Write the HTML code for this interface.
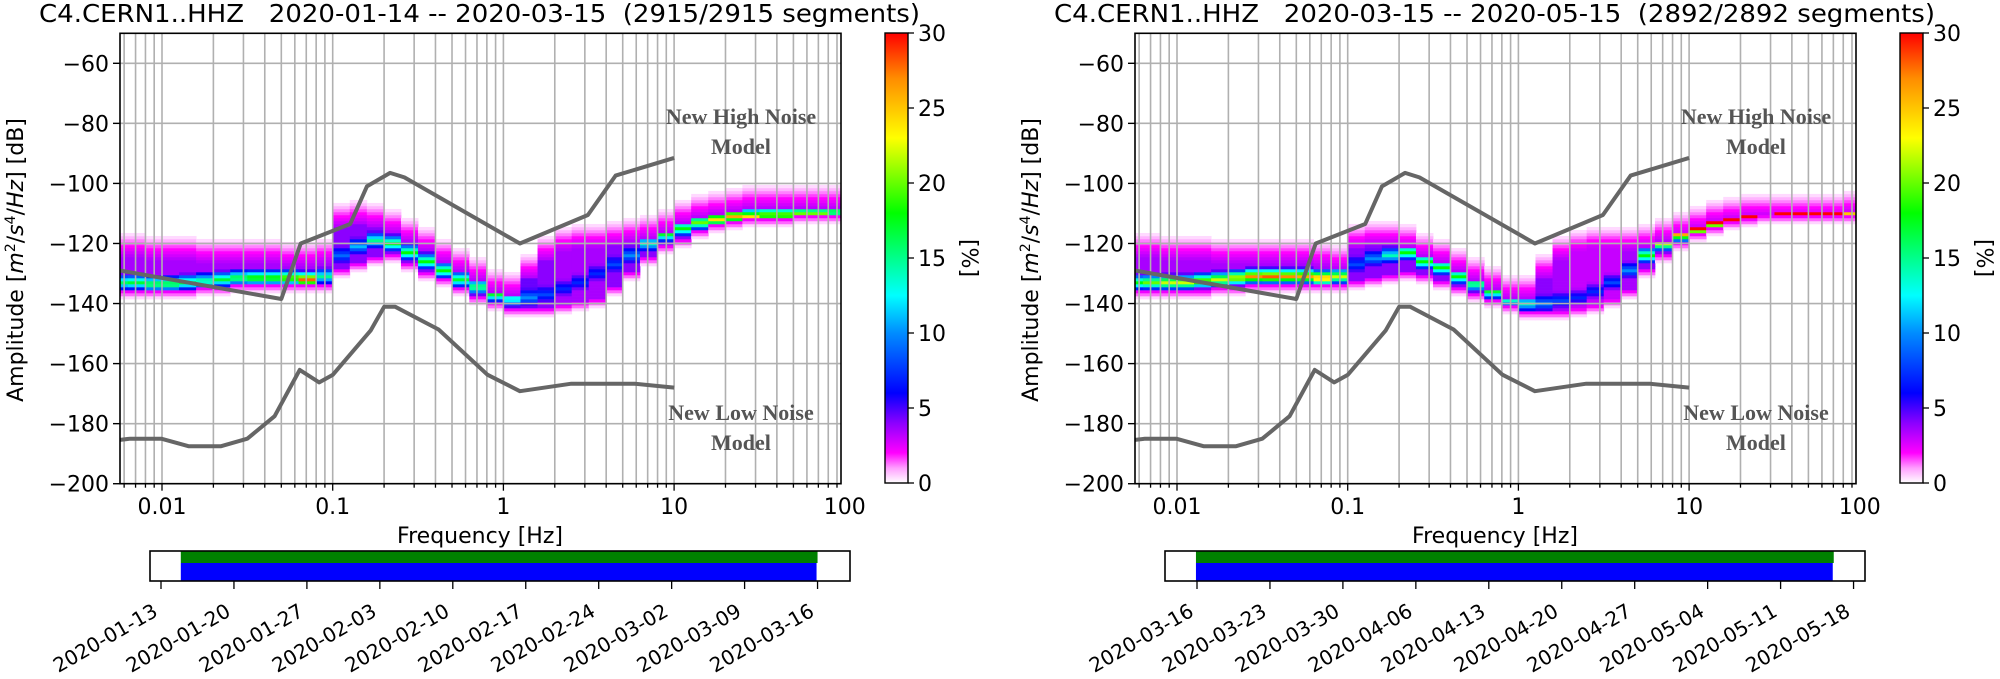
<!DOCTYPE html>
<html><head><meta charset="utf-8">
<style>
html,body{margin:0;padding:0;background:#fff;}
svg{display:block;}
text{font-family:"DejaVu Sans","Liberation Sans",sans-serif;fill:#000;white-space:pre;}
.serif{font-family:"Liberation Serif","DejaVu Serif",serif;font-weight:bold;fill:#555;}
</style></head>
<body>
<svg id="fig" width="2000" height="679" viewBox="0 0 2000 679" xmlns="http://www.w3.org/2000/svg">
<defs>
<linearGradient id="cmap" x1="0" y1="1" x2="0" y2="0">
<stop offset="0" stop-color="#ffffff"/>
<stop offset="0.033" stop-color="#ffa0ff"/>
<stop offset="0.067" stop-color="#ff00ff"/>
<stop offset="0.133" stop-color="#8c00ff"/>
<stop offset="0.2" stop-color="#0000ff"/>
<stop offset="0.333" stop-color="#008cff"/>
<stop offset="0.417" stop-color="#00ffff"/>
<stop offset="0.6" stop-color="#00ff00"/>
<stop offset="0.767" stop-color="#ffff00"/>
<stop offset="0.9" stop-color="#ff8c00"/>
<stop offset="1" stop-color="#ff0000"/>
</linearGradient>
</defs>
</svg>
<script>
// ---- data ----
const logFreqs = [-2.25,-2.15,-2.05,-1.95,-1.85,-1.75,-1.65,-1.55,-1.45,-1.35,-1.25,-1.15,-1.05,-0.95,-0.85,-0.75,-0.65,-0.55,-0.45,-0.35,-0.25,-0.15,-0.05,0.05,0.15,0.25,0.35,0.45,0.55,0.65,0.75,0.85,0.95,1.05,1.15,1.25,1.35,1.45,1.55,1.65,1.75,1.85,1.95];
const modeA = [-133,-133,-133.5,-133.5,-133,-132.5,-132,-131.5,-131.5,-131.5,-131.5,-132,-131,-124,-121,-119,-120,-123,-126,-129,-132,-134.5,-137,-138.5,-138,-137,-135,-133,-130,-127,-124,-120,-117,-115,-113,-112,-111,-111,-110.5,-110.5,-110,-110,-109.5];
const peakA = [16,17,18,18,17,16,17,18,20,20,22,28,15,9,11,15,18,18,18,18,17,17,17,14,10,8,7,7,7,8,10,14,17,18,20,24,26,24,22,22,20,20,18];
const topA = [-120,-120,-121,-121,-121,-122,-122,-122,-122,-122,-123,-123,-122,-110,-109,-110,-112,-115,-118,-122,-125,-128,-132,-133,-127,-121,-118,-117,-117,-116,-115,-114,-112,-109,-107,-106,-105,-104,-104,-104,-104,-104,-104];
const botA = [-137,-137,-137,-137,-137,-136,-136,-135,-135,-135,-135,-135,-135,-130,-128,-126,-125,-128,-131,-133,-136,-139,-141,-143,-143,-143,-142,-141,-140,-136,-131,-126,-122,-120,-117,-115,-114,-113,-113,-113,-112,-112,-112];
const bodyA = [3.5,3.5,3.5,3.5,3.5,3.5,3.5,3.5,3.5,3.5,3.5,3.5,3.5,4,4,4,4,4,4,4,4,4,4,4.5,4.5,4,3.5,3.5,3.5,4,4,4,4,4,4,4,4,4,4,4,4,4,4];

const modeB = [-133,-133,-133,-133,-132.5,-132,-131.5,-131,-131,-131,-131,-131.5,-131,-127,-125,-124,-123,-126,-128,-131,-133.5,-136,-138.5,-140,-140,-139,-138,-136,-133,-129,-124,-120,-117,-115,-113,-112,-111,-110.5,-110,-110,-110,-110,-109.5];
const peakB = [18,20,22,22,22,22,24,27,28,27,26,28,22,8,10,14,18,18,18,18,17,17,16,14,10,8,7,7,8,10,18,22,26,30,30,30,30,30,30,30,30,30,30];
const topB = [-120,-120,-121,-121,-121,-122,-122,-122,-122,-122,-122,-123,-124,-117,-116,-116,-117,-120,-122,-125,-128,-131,-134,-134,-127,-121,-119,-118,-118,-118,-117,-115,-113,-111,-109,-108,-107,-107,-107,-107,-107,-107,-106];
const botB = [-137,-137,-137,-137,-137,-136,-136,-135,-135,-135,-135,-135,-135,-134,-133,-132,-131,-132,-134,-136,-138,-140,-142,-144,-144,-144,-143,-142,-140,-137,-130,-125,-121,-118,-116,-114,-113,-112,-112,-112,-112,-112,-112];
const bodyB = [3.5,3.5,3.5,3.5,3.5,3.5,3.5,3.5,3.5,3.5,3.5,3.5,3.5,4,4,4,4,4,4,4,4,4,4,4,4,3.5,3,3,3,3.5,4,4,4,4,4,4,4,4,4,4,4,4,4];

// Peterson noise models (frequency Hz, dB)
const nhnmFreq = [0.00567,0.05,0.0649,0.1266,0.1587,0.217,0.263,1.25,3.125,4.545,10];
const nhnmDb = [-129.0,-138.5,-120.0,-113.5,-101.0,-96.5,-98.0,-120.0,-110.5,-97.4,-91.5];
const nlnmFreq = [0.00567,0.0065,0.0099,0.01429,0.0222,0.0316,0.0457,0.0641,0.0833,0.1,0.1667,0.2,0.2326,0.417,0.806,1.25,2.5,5.88,10];
const nlnmDb = [-185.4,-185.0,-185.0,-187.5,-187.5,-185.0,-177.5,-162.1,-166.25,-163.75,-149.0,-141.1,-141.1,-148.65,-163.7,-169.2,-166.7,-166.7,-168.0];

const yTicks = [-60,-80,-100,-120,-140,-160,-180,-200];
const xTickLabels = ["0.01","0.1","1","10","100"];
const cbTicks = [0,5,10,15,20,25,30];
const datesA = ["2020-01-13","2020-01-20","2020-01-27","2020-02-03","2020-02-10","2020-02-17","2020-02-24","2020-03-02","2020-03-09","2020-03-16"];
const datesB = ["2020-03-16","2020-03-23","2020-03-30","2020-04-06","2020-04-13","2020-04-20","2020-04-27","2020-05-04","2020-05-11","2020-05-18"];
// coverage in days relative to first tick date
const coverA = [1.9, 63.0];
const coverB = [-0.1, 61.1];
const titles = ["C4.CERN1..HHZ   2020-01-14 -- 2020-03-15  (2915/2915 segments)","C4.CERN1..HHZ   2020-03-15 -- 2020-05-15  (2892/2892 segments)"];

// ---- rendering ----
const NS = "http://www.w3.org/2000/svg";
const svg = document.getElementById("fig");
function mk(tag, attrs, parent) {
  const e = document.createElementNS(NS, tag);
  for (const k in attrs) e.setAttribute(k, attrs[k]);
  (parent || svg).appendChild(e);
  return e;
}
const CSTOPS = [[0,255,255,255],[1,255,160,255],[2,255,0,255],[4,140,0,255],[6,0,0,255],[10,0,140,255],[12.5,0,255,255],[18,0,255,0],[23,255,255,0],[27,255,140,0],[30,255,0,0]];
function cmap(v) {
  v = Math.max(0, Math.min(30, v));
  for (let i = 1; i < CSTOPS.length; i++) {
    if (v <= CSTOPS[i][0]) {
      const a = CSTOPS[i-1], b = CSTOPS[i], t = (v - a[0]) / (b[0] - a[0]);
      return "rgb(" + [1,2,3].map(j => Math.round(a[j] + (b[j]-a[j])*t)).join(",") + ")";
    }
  }
  return "rgb(255,0,0)";
}

function panel(ox, mode, peak, top, bot, body, dates, cover, title, tag, tick0) {
  const L = 120 + ox, R = 841 + ox, T = 33.3, B = 483.7;
  const xs = f => ox + 162 + 170.7 * (Math.log10(f) + 2);
  const ys = db => 63.3 + (-60 - db) * 3.003;
  const g = mk("g", {});
  
  
  const clipId = "clip" + tag;
  const cp = mk("clipPath", {id: clipId}, g);
  mk("rect", {x: L, y: T, width: R - L, height: B - T}, cp);

  // heatmap
  const hm = mk("g", {"clip-path": "url(#" + clipId + ")"}, g);
  
  
  for (let i = 0; i < logFreqs.length; i++) {
    const x0 = xs(Math.pow(10, logFreqs[i] - 0.05)), x1 = xs(Math.pow(10, logFreqs[i] + 0.05));
    for (let b = Math.floor(bot[i]) - 1; b <= Math.ceil(top[i]) + 4; b++) {
      const d = b - mode[i];
      const w = d > 0 ? 3.2 : 2.6;
      let v = body[i] + (peak[i] - body[i]) * Math.max(0, 1 - Math.abs(d) / w);
      if (b > mode[i]) {
        const up = (top[i] - b);
        if (up < 5) v = Math.min(v, Math.max(0, up + 4) * 0.4);
      } else {
        const dn = (b - bot[i]);
        if (dn < 2) v = Math.min(v, Math.max(0, dn + 1.5) * 0.9);
      }
      if (v < 0.3) continue;
      const r = mk("rect", {x: x0.toFixed(2), y: ys(b + 0.5).toFixed(2), width: (x1 - x0 + 0.4).toFixed(2), height: 3.3, fill: cmap(v)}, hm);
      
      
    }
  }

  // grid
  const grid = mk("g", {stroke: "#b0b0b0", "stroke-width": 1.6, "clip-path": "url(#" + clipId + ")"}, g);
  
  
  for (let e = -3; e <= 2; e++) for (let m = 1; m <= 9; m++) {
    const x = xs(m * Math.pow(10, e));
    if (x < L || x > R) continue;
    mk("line", {x1: x, y1: T, x2: x, y2: B}, grid);
  }
  yTicks.forEach(v => mk("line", {x1: L, y1: ys(v), x2: R, y2: ys(v)}, grid));

  // noise models
  const hp = nhnmFreq.map((f, i) => xs(f).toFixed(1) + "," + ys(nhnmDb[i]).toFixed(1)).join(" ");
  const hl = mk("polyline", {points: hp, fill: "none", stroke: "#666", "stroke-width": 4, "stroke-linejoin": "round", "clip-path": "url(#" + clipId + ")"}, g);
  
  
  const lp = nlnmFreq.map((f, i) => xs(f).toFixed(1) + "," + ys(nlnmDb[i]).toFixed(1)).join(" ");
  const ll = mk("polyline", {points: lp, fill: "none", stroke: "#666", "stroke-width": 4, "stroke-linejoin": "round", "clip-path": "url(#" + clipId + ")"}, g);
  
  

  const lab = [["New High Noise", 117], ["Model", 147], ["New Low Noise", 413], ["Model", 443]];
  lab.forEach((t, k) => {
    const tx = mk("text", {x: 741 + ox, y: t[1] + 7, "text-anchor": "middle", "font-size": 22, class: "serif"}, g);
    tx.textContent = t[0];
    
    
  });

  // frame
  const fr = mk("rect", {x: L, y: T, width: R - L, height: B - T, fill: "none", stroke: "#000", "stroke-width": 1.6}, g);
  
  

  // y ticks
  yTicks.forEach(v => {
    mk("line", {x1: L - 7, y1: ys(v), x2: L, y2: ys(v), stroke: "#000", "stroke-width": 1.4}, g);
    const t = mk("text", {x: L - 11, y: ys(v) + 8, "text-anchor": "end", "font-size": 22}, g);
    t.textContent = "\u2212" + Math.abs(v);
    
    
  });
  // x ticks
  for (let e = -3; e <= 2; e++) for (let m = 1; m <= 9; m++) {
    const x = xs(m * Math.pow(10, e));
    if (x < L - 0.5 || x > R + 0.5) continue;
    mk("line", {x1: x, y1: B, x2: x, y2: B + (m === 1 ? 7 : 4), stroke: "#000", "stroke-width": 1.3}, g);
  }
  xTickLabels.forEach((s, k) => {
    const t = mk("text", {x: xs(Math.pow(10, k - 2)), y: 514, "text-anchor": "middle", "font-size": 22}, g);
    t.textContent = s;
    
    
  });
  const xl = mk("text", {x: 480 + ox, y: 543, "text-anchor": "middle", "font-size": 22}, g);
  xl.textContent = "Frequency [Hz]";
  
  
  const yl = mk("text", {x: 0, y: 0, "text-anchor": "middle", "font-size": 22, transform: "translate(" + (23 + ox) + ",260) rotate(-90)"}, g);
  yl.innerHTML = 'Amplitude [<tspan font-style="italic">m</tspan><tspan font-size="14" dy="-8">2</tspan><tspan dy="8">/</tspan><tspan font-style="italic">s</tspan><tspan font-size="14" dy="-8">4</tspan><tspan dy="8">/</tspan><tspan font-style="italic">Hz</tspan>] [dB]';
  
  

  const tt = mk("text", {x: 39 + ox, y: 22, "font-size": 25, textLength: 881, lengthAdjust: "spacingAndGlyphs"}, g);
  tt.textContent = title;
  
  

  // colorbar
  const cbx = 885 + ox;
  const cb = mk("rect", {x: cbx, y: 33, width: 23, height: 450, fill: "url(#cmap)", stroke: "#000", "stroke-width": 1.4}, g);
  
  
  cbTicks.forEach(v => {
    const y = 483 - v * 15;
    mk("line", {x1: cbx + 23, y1: y, x2: cbx + 29, y2: y, stroke: "#000", "stroke-width": 1.3}, g);
    const t = mk("text", {x: cbx + 33, y: y + 8, "font-size": 22}, g);
    t.textContent = String(v);
    
    
  });
  const cl = mk("text", {x: 0, y: 0, "text-anchor": "middle", "font-size": 22, transform: "translate(" + (962 + ox) + ",258) rotate(90)"}, g);
  cl.textContent = "[%]";
  
  

  // timeline
  const tx0 = tick0 + ox, day = 72.95 / 7;
  const td = d => tx0 + d * day;
  const gr = mk("rect", {x: td(cover[0]), y: 551, width: td(cover[1]) - td(cover[0]), height: 12, fill: "#008000"}, g);
  
  
  const bl = mk("rect", {x: td(cover[0]), y: 563, width: td(cover[1]) - td(cover[0]) - 1, height: 18, fill: "#0000ff"}, g);
  
  
  const tb = mk("rect", {x: 150 + ox, y: 551, width: 700, height: 30, fill: "none", stroke: "#000", "stroke-width": 1.6}, g);
  
  
  dates.forEach((s, k) => {
    const x = td(k * 7);
    mk("line", {x1: x, y1: 581, x2: x, y2: 589, stroke: "#000", "stroke-width": 1.3}, g);
    const t = mk("text", {x: 0, y: 0, "text-anchor": "end", "font-size": 20, transform: "translate(" + (x - 2) + ",615) rotate(-30)"}, g);
    t.textContent = s;
    
    
  });
}

panel(0, modeA, peakA, topA, botA, bodyA, datesA, coverA, titles[0], "left", 161);
panel(1015, modeB, peakB, topB, botB, bodyB, datesB, coverB, titles[1], "right", 182);
</script>
</body></html>
